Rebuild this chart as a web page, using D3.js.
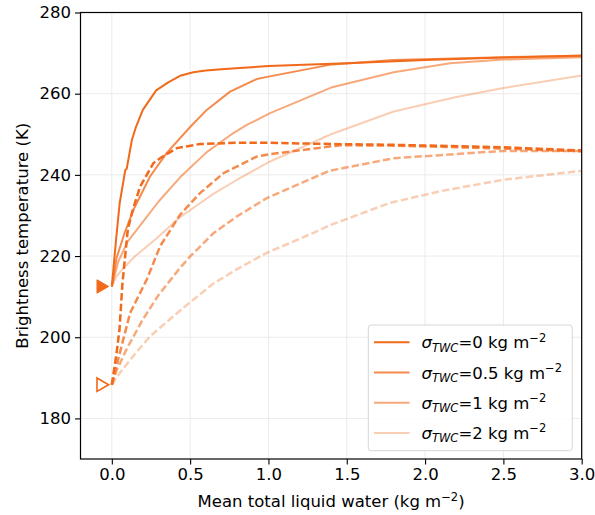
<!DOCTYPE html>
<html><head><meta charset="utf-8">
<script src="https://cdn.jsdelivr.net/npm/d3@7/dist/d3.min.js"></script>
<style>
body{margin:0;background:#fff}
text{font-family:"DejaVu Sans",sans-serif;fill:#000}
</style>
</head><body>
<svg id="chart" width="595" height="515"></svg>
<script>
// ---- data ----
const sigmaLabels = ["0", "0.5", "1", "2"];
const xTicks = [0, 0.5, 1.0, 1.5, 2.0, 2.5, 3.0];
const yTicks = [180, 200, 220, 240, 260, 280];

const solid_s0 = [[0,212.5],[0.027,224],[0.05,233],[0.086,241.2],[0.095,241.5],[0.128,248.6],[0.155,251.9],[0.198,256],[0.283,260.8],[0.36,262.8],[0.436,264.4],[0.52,265.3],[0.6,265.7],[0.7,266],[0.84,266.4],[1.0,266.8],[1.5,267.5],[2.0,268.3],[2.5,268.9],[3.0,269.4]];
const solid_s05 = [[0,212.5],[0.03,219.5],[0.08,225.5],[0.138,231.4],[0.244,239.6],[0.351,245.4],[0.5,251.8],[0.606,256],[0.755,260.5],[0.925,263.6],[1.0,264.2],[1.39,267.1],[1.8,268.3],[2.5,269],[3.0,269.3]];
const solid_s1 = [[0,212.5],[0.04,218.5],[0.1,223.5],[0.18,227.5],[0.3,233.5],[0.436,239.4],[0.606,245.6],[0.776,250.3],[0.862,252.3],[1.01,255.2],[1.4,261.5],[1.8,265.3],[2.16,267.5],[2.5,268.4],[3.0,269.0]];
const solid_s2 = [[0,212.5],[0.03,215],[0.074,217],[0.15,220],[0.287,224.4],[0.436,229.6],[0.563,233],[0.648,235.3],[0.8,238.8],[1.01,243.3],[1.4,250],[1.8,255.6],[2.2,259.2],[2.5,261.4],[3.0,264.5]];

const dashed_s0 = [[0,188.3],[0.03,196],[0.049,201.9],[0.068,213.4],[0.102,226.5],[0.128,230.6],[0.18,237.1],[0.266,242.9],[0.308,244.1],[0.415,246.6],[0.563,247.6],[0.8,247.9],[1.0,247.9],[1.4,247.6],[1.8,247.4],[2.5,246.8],[3.0,246.0]];
const dashed_s05 = [[0,188.3],[0.03,193],[0.117,206],[0.223,214.2],[0.308,222.4],[0.436,230.2],[0.563,235.5],[0.712,240.4],[0.925,244.5],[1.01,245.1],[1.457,247.3],[1.8,247.2],[2.5,246.5],[3.0,245.8]];
const dashed_s1 = [[0,188.3],[0.03,191.8],[0.1,197.5],[0.2,204.5],[0.3,210.5],[0.436,217.1],[0.5,219.9],[0.648,225.6],[0.8,229.8],[0.99,234.3],[1.39,241],[1.8,244.1],[2.5,245.9],[3.0,245.9]];
const dashed_s2 = [[0,188.3],[0.053,191.3],[0.15,196],[0.244,200.2],[0.436,206.6],[0.648,213.2],[0.8,216.8],[0.99,220.8],[1.287,225.7],[1.393,227.6],[1.776,233.1],[2.1,236],[2.5,238.8],[3.0,241]];

const clearSkyMarker = [-0.07, 212.5];
const cloudyMarker = [-0.07, 188.3];

// ---- style ----
const baseColor = "#f16a1b";
const opacities = [1, 0.78, 0.58, 0.33];
const solidSeries = [solid_s0, solid_s05, solid_s1, solid_s2];
const dashedSeries = [dashed_s0, dashed_s05, dashed_s1, dashed_s2];
const fs = 16.5;

const svg = d3.select("#chart");
const m = {l: 80.5, r: 581.7, t: 12.5, b: 459};
const x = d3.scaleLinear().domain([-0.2, 3.0]).range([m.l, m.r]);
const y = d3.scaleLinear().domain([170, 280]).range([m.b, m.t]);

// grid
const grid = svg.append("g");
grid.selectAll("line.vx").data(xTicks).enter().append("line")
  .attr("x1", d => x(d)).attr("x2", d => x(d)).attr("y1", m.t).attr("y2", m.b)
  .attr("stroke", "#ebebeb").attr("stroke-width", 1);
grid.selectAll("line.hy").data(yTicks).enter().append("line")
  .attr("y1", d => y(d)).attr("y2", d => y(d)).attr("x1", m.l).attr("x2", m.r)
  .attr("stroke", "#ebebeb").attr("stroke-width", 1);

// lines
const line = d3.line().x(d => x(d[0])).y(d => y(d[1]));
const plot = svg.append("g");
for (let i = 0; i < 4; i++) {
  plot.append("path").datum(solidSeries[i]).attr("d", line)
    .attr("fill", "none").attr("stroke", baseColor).attr("stroke-opacity", opacities[i])
    .attr("stroke-width", 2).attr("stroke-linejoin", "round");
  plot.append("path").datum(dashedSeries[i]).attr("d", line)
    .attr("fill", "none").attr("stroke", baseColor).attr("stroke-opacity", opacities[i])
    .attr("stroke-width", 2.5).attr("stroke-dasharray", "7.4,3.2");
}

// markers
const tri = d3.symbol().type(d3.symbolTriangle).size(78);
svg.append("path").attr("d", tri())
  .attr("transform", `translate(${x(clearSkyMarker[0])},${y(clearSkyMarker[1])}) rotate(90)`)
  .attr("fill", baseColor).attr("stroke", baseColor).attr("stroke-width", 1);
svg.append("path").attr("d", tri())
  .attr("transform", `translate(${x(cloudyMarker[0])},${y(cloudyMarker[1])}) rotate(90)`)
  .attr("fill", "#fff").attr("stroke", baseColor).attr("stroke-width", 1.6);

// axes
const xAxis = d3.axisBottom(x).tickValues(xTicks).tickFormat(d3.format(".1f")).tickSize(5.5).tickPadding(4);
const yAxis = d3.axisLeft(y).tickValues(yTicks).tickFormat(d3.format("d")).tickSize(5.5).tickPadding(4);
const gx = svg.append("g").attr("transform", `translate(0,${m.b})`).call(xAxis);
const gy = svg.append("g").attr("transform", `translate(${m.l},0)`).call(yAxis);
[gx, gy].forEach(g => {
  g.select(".domain").remove();
  g.selectAll(".tick line").attr("stroke", "#000").attr("stroke-width", 1.1);
  g.selectAll(".tick text").attr("font-size", fs).attr("font-family", "DejaVu Sans").attr("fill", "#000");
});
// frame
svg.append("rect").attr("x", m.l).attr("y", m.t).attr("width", m.r - m.l).attr("height", m.b - m.t)
  .attr("fill", "none").attr("stroke", "#000").attr("stroke-width", 1.2);

// axis labels
const xl = svg.append("text").attr("x", (m.l + m.r) / 2).attr("y", 507).attr("text-anchor", "middle").attr("font-size", fs);
xl.append("tspan").text("Mean total liquid water (kg m");
xl.append("tspan").text("\u22122").attr("font-size", 11.5).attr("dy", -6.5);
xl.append("tspan").text(")").attr("dy", 6.5);

svg.append("text").attr("transform", `translate(28,${(m.t + m.b) / 2}) rotate(-90)`)
  .attr("text-anchor", "middle").attr("font-size", fs).text("Brightness temperature (K)");

// legend
const lg = svg.append("g");
lg.append("rect").attr("x", 368.3).attr("y", 325).attr("width", 204).attr("height", 125.7)
  .attr("rx", 3).attr("fill", "#fff").attr("fill-opacity", 0.85).attr("stroke", "#d6d6d6").attr("stroke-width", 1);
sigmaLabels.forEach((s, i) => {
  const cy = 342.3 + i * 30.2;
  lg.append("line").attr("x1", 374).attr("x2", 409.5).attr("y1", cy).attr("y2", cy)
    .attr("stroke", baseColor).attr("stroke-opacity", opacities[i]).attr("stroke-width", 2);
  const t = lg.append("text").attr("x", 421.5).attr("y", cy + 6).attr("font-size", fs);
  t.append("tspan").text("\u03c3").attr("font-style", "italic");
  t.append("tspan").text("TWC").attr("font-style", "italic").attr("font-size", 11.5).attr("dy", 3.5);
  t.append("tspan").text("=" + s + " kg m").attr("dy", -3.5);
  t.append("tspan").text("\u22122").attr("font-size", 11.5).attr("dy", -6.5);
});
</script>
</body></html>
